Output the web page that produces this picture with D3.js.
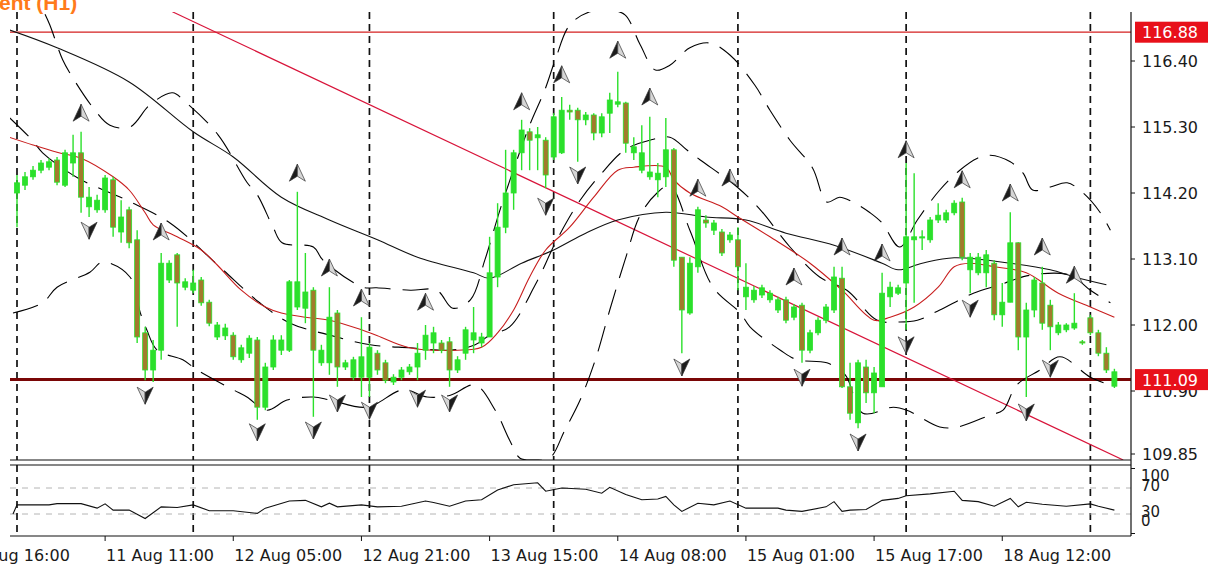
<!DOCTYPE html>
<html lang="en">
<head>
<meta charset="UTF-8">
<title>USDJPY H1</title>
<script src="https://d3js.org/d3.v7.min.js"></script>
<style>
  body { margin: 0; background: #fff; }
  svg { display: block; font-family: "DejaVu Sans", sans-serif; }
</style>
</head>
<body>
<div id="chart"></div>
<script>
// H1 bars, [open, high, low, close]
const ohlc = [
  [114.20,114.50,113.63,114.37],[114.33,114.55,114.25,114.47],[114.47,114.65,114.42,114.58],[114.58,114.75,114.53,114.70],
  [114.63,114.78,114.58,114.72],[114.75,114.80,114.33,114.38],[114.33,114.92,114.30,114.87],[114.70,115.17,114.47,114.87],
  [114.87,115.22,113.87,114.13],[113.97,114.30,113.80,114.13],[113.92,114.17,113.87,114.08],[113.92,114.50,113.87,114.45],
  [114.42,114.47,113.47,113.63],[113.55,114.08,113.37,113.80],[113.92,113.97,113.28,113.37],[113.42,113.58,111.70,111.80],
  [111.87,111.97,111.08,111.25],[111.25,111.75,111.05,111.58],[111.58,113.20,111.42,113.03],[112.75,113.08,112.70,113.03],
  [113.17,113.20,111.97,112.70],[112.63,112.78,112.58,112.72],[112.58,112.92,112.53,112.70],[112.75,112.80,112.32,112.37],
  [112.38,112.42,111.98,112.03],[111.80,112.05,111.75,112.00],[111.82,112.02,111.75,111.95],[111.83,111.88,111.42,111.47],
  [111.42,111.67,111.37,111.62],[111.53,111.83,111.45,111.78],[111.75,111.80,110.42,110.63],[110.63,111.37,110.58,111.30],
  [111.30,111.83,111.25,111.75],[111.58,111.83,111.50,111.75],[111.58,112.75,111.55,112.72],[112.30,114.22,112.25,112.72],
  [112.28,113.20,112.03,112.55],[112.58,112.63,110.47,111.58],[111.37,111.67,111.32,111.58],[111.37,112.63,111.17,112.13],
  [112.20,112.25,110.97,111.30],[111.30,111.42,111.25,111.37],[111.13,111.47,111.08,111.42],[111.13,112.13,110.80,111.47],
  [111.13,111.70,110.80,111.63],[111.53,111.58,111.17,111.25],[111.37,111.42,111.03,111.08],[111.05,111.18,111.00,111.13],
  [111.13,111.30,111.08,111.25],[111.22,111.35,111.17,111.30],[111.30,111.70,111.08,111.53],[111.58,112.00,111.42,111.83],
  [111.70,111.97,111.53,111.87],[111.70,111.75,111.53,111.58],[111.72,111.80,110.97,111.25],[111.25,111.48,111.20,111.42],
  [111.53,111.97,111.42,111.92],[111.75,112.30,111.53,111.87],[111.70,111.87,111.63,111.80],[111.80,113.47,111.80,112.87],
  [112.80,114.03,112.63,113.63],[113.63,114.92,113.53,114.20],[114.20,114.92,113.92,114.87],[114.87,115.42,114.58,115.25],
  [115.22,115.28,114.58,115.08],[115.12,115.30,114.58,115.17],[115.08,115.13,114.28,114.50],[114.80,115.53,114.75,115.47],
  [114.87,115.80,114.85,115.58],[115.58,115.67,115.42,115.55],[115.58,115.62,114.72,115.42],[115.42,115.55,115.33,115.50],
  [115.50,115.53,115.08,115.20],[115.20,115.53,115.13,115.47],[115.53,115.87,115.20,115.75],[115.68,116.22,115.63,115.72],
  [115.70,115.72,114.87,115.03],[114.87,115.13,114.75,114.97],[114.58,115.33,114.53,114.87],[114.47,115.47,114.42,114.55],
  [114.42,114.70,114.13,114.53],[114.47,115.45,114.30,114.92],[114.92,114.95,112.97,113.08],[113.13,113.13,111.53,112.25],
  [112.20,113.13,112.17,113.03],[112.97,113.97,112.87,113.92],[113.75,113.83,113.62,113.70],[113.58,113.75,113.50,113.70],
  [113.55,113.60,113.15,113.20],[113.42,113.55,113.37,113.50],[113.42,113.63,112.58,112.97],[112.47,113.03,112.25,112.63],
  [112.42,112.65,112.37,112.58],[112.50,112.67,112.45,112.62],[112.42,112.58,112.37,112.53],[112.25,112.47,112.20,112.42],
  [112.42,112.47,112.03,112.08],[112.13,112.35,112.08,112.30],[112.33,112.37,111.37,111.58],[111.58,111.92,111.53,111.87],
  [111.87,112.13,111.83,112.08],[112.08,112.35,112.03,112.30],[112.25,112.97,112.20,112.80],[112.78,112.97,110.95,110.97],
  [110.97,111.37,110.42,110.53],[110.37,111.42,110.28,111.37],[111.30,111.42,110.70,110.87],[110.87,111.30,110.53,111.20],
  [110.97,112.87,110.97,112.53],[112.47,112.72,112.30,112.63],[112.53,112.67,112.50,112.62],[112.70,114.70,111.92,113.47],
  [113.42,114.53,112.37,113.47],[113.45,113.58,113.25,113.47],[113.42,113.80,113.37,113.75],[113.75,114.03,113.70,113.83],
  [113.75,113.92,113.70,113.87],[113.87,114.08,113.83,114.03],[114.05,114.12,113.08,113.13],[112.92,113.20,112.53,113.13],
  [112.87,113.20,112.83,113.13],[112.87,113.25,112.63,113.17],[113.03,113.08,112.08,112.17],[112.17,112.70,111.97,112.38],
  [112.38,113.88,112.38,113.37],[113.37,113.38,111.58,111.80],[111.80,112.37,110.80,112.25],[112.25,112.80,112.13,112.75],
  [112.70,112.97,111.92,112.03],[112.33,112.42,111.58,111.97],[111.87,112.05,111.83,112.00],[111.92,112.03,111.88,112.00],
  [111.95,112.53,111.92,112.03],[111.72,111.75,111.67,111.70],[112.12,112.17,111.83,111.87],[111.87,111.92,111.48,111.53],
  [111.53,111.63,111.20,111.25],[110.98,111.27,110.95,111.22]
];

// indicator lines: [bar index, price]
const redMA = [[-1,115.13],[2,115.00],[5,114.88],[8,114.78],[12,114.47],[14,114.25],[16,113.87],[17,113.67],[20,113.47],
  [23,113.25],[25,113.00],[28,112.58],[31,112.30],[33,112.20],[36,112.13],[39,112.08],[43,111.92],[45,111.82],[49,111.62],
  [55,111.58],[58,111.63],[60,111.87],[62,112.25],[64,112.80],[66,113.25],[69,113.63],[72,114.13],[75,114.58],[77,114.63],
  [81,114.63],[82,114.42],[84,114.20],[88,113.97],[90,113.80],[94,113.47],[99,113.03],[103,112.58],[107,112.08],[109,112.13],
  [112,112.30],[115,112.63],[117,112.97],[119,113.03],[122,112.97],[126,112.87],[130,112.53],[134,112.30],[137,112.13]];
const blackMA = [[-1,116.92],[5,116.62],[14,116.05],[22,115.22],[27,114.80],[33,114.13],[39,113.75],[45,113.42],[50,113.13],
  [57,112.87],[59,112.78],[63,113.03],[67,113.25],[71,113.53],[75,113.75],[81,113.88],[86,113.80],[91,113.75],[96,113.53],
  [102,113.33],[108,113.03],[110,112.92],[113,113.03],[117,113.12],[124,113.03],[129,112.92],[132,112.80],[136,112.67]];
const bandUpper = [[3.5,117.18],[4.1,117.00],[5.7,116.42],[6.6,116.20],[9.5,115.62],[11.6,115.33],[14.1,115.30],[16.6,115.67],
  [19.4,115.87],[21,115.72],[25.1,115.17],[28.7,114.38],[30,114.17],[32,113.62],[33.1,113.37],[37,113.30],[38.2,113.08],
  [43.2,112.63],[44.9,112.62],[49.1,112.58],[52.4,112.58],[54.4,112.28],[56.6,112.42],[58.4,113.08],[60.3,113.92],
  [62.2,114.67],[64,115.33],[65.9,115.92],[67.2,116.42],[69,117.00],[71.5,117.22],[74,117.25],[75.9,117.17],[77.8,116.67],
  [79.7,116.25],[81.5,116.33],[84,116.62],[86.5,116.70],[89,116.50],[92.1,116.00],[94,115.58],[96.5,115.08],[99.3,114.62],
  [101.1,114.05],[102.7,114.13],[104.6,114.03],[106.5,113.87],[108,113.70],[110.2,113.30],[112.4,113.75],[115.2,114.25],
  [117.7,114.58],[119.9,114.78],[121.5,114.83],[124,114.72],[125.6,114.53],[126.8,114.25],[129,114.30],[131.1,114.37],
  [133.1,114.20],[135.2,113.88],[136.5,113.58]];
const bandMiddle = [[-0.9,115.45],[1.9,115.08],[3.2,114.87],[7.6,114.45],[13.7,114.08],[19.1,113.70],[25.3,112.97],[30.3,112.37],
  [34.1,112.03],[39.1,111.83],[44.1,111.67],[49.1,111.62],[54.1,111.58],[57.2,111.67],[59,111.83],[61.5,111.97],[64.7,112.67],
  [67.4,113.42],[70.3,114.08],[72.8,114.50],[75.9,114.92],[79,115.08],[81.5,115.13],[83.6,114.92],[85.3,114.75],[89.9,114.30],
  [92.8,113.92],[96.5,113.30],[100.2,112.80],[103.6,112.58],[107.4,112.08],[110.2,112.05],[112.4,112.08],[115.2,112.25],
  [119.4,112.53],[122.7,112.67],[126.5,112.83],[131.5,112.83],[134,112.58],[136.5,112.37]];
const bandLower = [[-0.5,112.20],[3.2,112.37],[5,112.63],[9.1,112.88],[10.7,113.05],[14.1,112.80],[15.4,112.20],[16.2,111.92],
  [17.5,111.58],[20.7,111.42],[22.5,111.25],[27,110.92],[28.7,110.80],[31.2,110.58],[33.7,110.75],[37,110.80],[39.1,110.75],
  [43.7,110.63],[48.2,110.92],[51.2,110.80],[54.1,110.83],[57.2,111.00],[59.7,110.58],[61.5,110.08],[62.8,109.78],
  [64.7,109.75],[66.5,109.78],[68.4,110.25],[70.3,110.75],[72.2,111.42],[74,112.25],[75.9,113.08],[77.8,113.83],
  [79.9,114.20],[81.5,114.33],[84,113.58],[86.9,112.63],[90.3,112.20],[91.5,111.97],[95.3,111.58],[97.4,111.42],
  [101.1,111.37],[103.4,111.17],[105.6,110.53],[109.4,110.63],[111.1,110.58],[115.2,110.30],[117.4,110.30],[121.5,110.50],
  [123.1,110.58],[124.8,111.00],[127.7,111.25],[130.2,111.47],[134,111.13],[136.5,111.00]];

const fractalsUp = [[8,115.53],[18,113.55],[35,114.53],[39,112.95],[43,112.45],[51,112.38],[63,115.72],[68,116.17],[75,116.58],
  [79,115.80],[85,114.28],[89,114.45],[97,112.80],[103,113.30],[108,113.20],[111,114.92],[118,114.42],[124,114.20],[128,113.30],[132,112.83]];
const fractalsDown = [[9,113.58],[16,110.83],[30,110.22],[37,110.25],[40,110.70],[44,110.58],[50,110.78],[54,110.70],[66,113.98],
  [70,114.50],[83,111.30],[98,111.13],[105,110.05],[111,111.67],[119,112.28],[126,110.55],[129,111.28]];

const trendIdx = [19.4, 138.1];
const trendPrice = [117.22, 109.75];
const levelTop = 116.88;
const levelBottom = 111.09;

const rsi = [[-0.5,30],[0,44],[4,44],[5,46],[8,46],[10,39],[11,45.6],[12,36],[14,36],[16,23],[18,41],[20,40],[22,44],[24,35],
  [27,35],[30,31],[31,39],[34,50],[36,51],[38,41],[39,46.6],[40,41],[43,44],[45,41],[48,42],[51,50],[52,47.7],[54,42],[56,50],
  [58,52],[60,67],[62,75],[65,78],[66,65],[68,70],[71,68],[73,62],[74,71],[76,60],[78,52],[80,53],[81,57],[82,44],[83,34],
  [85,46.6],[87,44],[89,50],[91,39],[95,39],[96,36],[98,34],[101,41],[102,49],[103,34],[104,36],[106,37],[108,51],[110,54],
  [111,58],[114,61],[117,65],[118,51],[120,49],[122,42],[124,54],[125,41],[126,48],[128,45],[131,42],[134,45.6],[135,42],[137,36]];
const rsiLevels = [70, 30];
// label text and its baseline in the original (the labels overlap there too)
const rsiLabels = ["100", "70", "30", "0"];
const rsiLabelBase = [481, 491, 517, 526];

const separators = [0, 22, 44, 67, 90, 111, 134];
const priceTicks = [116.40, 115.30, 114.20, 113.10, 112.00, 110.90, 109.85];
const timeTickIdx = [-7, 11, 27, 43, 59, 75, 91, 107, 123];
const timeTickLabels = ["10 Aug 16:00", "11 Aug 11:00", "12 Aug 05:00", "12 Aug 21:00", "13 Aug 15:00",
  "14 Aug 08:00", "15 Aug 01:00", "15 Aug 17:00", "18 Aug 12:00"];

const width = 1212, height = 568;
const plot = { left: 10, right: 1131, top: 12, bottom: 460 };
const sub = { top: 465, bottom: 536 };
const bull = "#2be02b", bear = "#a27a2c";
const fontSize = 16;

const x = d3.scaleLinear().domain([0, ohlc.length - 1]).range([17, 1114.4]);
const y = d3.scaleLinear().domain([109.75, 117.2167]).range([plot.bottom, plot.top]);
const yr = d3.scaleLinear().domain([0, 100]).range([533.5, 468.5]);

const svg = d3.select("#chart").append("svg").attr("width", width).attr("height", height);

const defs = svg.append("defs");
defs.append("clipPath").attr("id", "clipMain").append("rect")
  .attr("x", plot.left).attr("y", plot.top).attr("width", plot.right - plot.left).attr("height", plot.bottom - plot.top);
defs.append("clipPath").attr("id", "clipSub").append("rect")
  .attr("x", plot.left).attr("y", sub.top).attr("width", plot.right - plot.left).attr("height", sub.bottom - sub.top);

svg.append("text").attr("x", -1).attr("y", 10)
  .attr("font-family", "Liberation Sans, Arial, sans-serif").attr("font-weight", "bold").attr("font-size", 21)
  .attr("fill", "#ff7a1a").text("ent (H1)");

const main = svg.append("g").attr("clip-path", "url(#clipMain)");
const subG = svg.append("g").attr("clip-path", "url(#clipSub)");

// day separators
[[main, plot.top, plot.bottom], [subG, sub.top, sub.bottom]].forEach(([g, y0, y1]) => {
  g.selectAll(null).data(separators).join("line")
    .attr("x1", d => x(d)).attr("x2", d => x(d)).attr("y1", y0).attr("y2", y1)
    .attr("stroke", "#111").attr("stroke-width", 1.7).attr("stroke-dasharray", "7,5");
});

// horizontal levels
main.append("line").attr("x1", plot.left).attr("x2", plot.right)
  .attr("y1", y(levelTop)).attr("y2", y(levelTop)).attr("stroke", "#d42020").attr("stroke-width", 1.2);
main.append("line").attr("x1", plot.left).attr("x2", plot.right)
  .attr("y1", y(levelBottom)).attr("y2", y(levelBottom)).attr("stroke", "#7a0606").attr("stroke-width", 3);

// trend line
main.append("line").attr("x1", x(trendIdx[0])).attr("y1", y(trendPrice[0]))
  .attr("x2", x(trendIdx[1])).attr("y2", y(trendPrice[1]))
  .attr("stroke", "#d8143a").attr("stroke-width", 1.2);

const smooth = d3.line().x(d => x(d[0])).y(d => y(d[1])).curve(d3.curveCatmullRom);

[bandUpper, bandMiddle, bandLower].forEach(b => {
  main.append("path").attr("d", smooth(b)).attr("fill", "none")
    .attr("stroke", "#000").attr("stroke-width", 1.1).attr("stroke-dasharray", "26,12");
});
main.append("path").attr("d", smooth(blackMA)).attr("fill", "none").attr("stroke", "#111").attr("stroke-width", 1.1);
main.append("path").attr("d", smooth(redMA)).attr("fill", "none").attr("stroke", "#c81e1e").attr("stroke-width", 1.1);

// candles
const bw = 5;
const c = main.append("g").selectAll("g").data(ohlc).join("g");
c.append("line")
  .attr("x1", (d, i) => x(i)).attr("x2", (d, i) => x(i))
  .attr("y1", d => y(d[1])).attr("y2", d => y(d[2]))
  .attr("stroke", bull).attr("stroke-width", 1.4);
c.append("rect")
  .attr("x", (d, i) => x(i) - bw / 2).attr("width", bw)
  .attr("y", d => y(Math.max(d[0], d[3])))
  .attr("height", d => Math.max(1, Math.abs(y(d[0]) - y(d[3]))))
  .attr("fill", d => d[3] >= d[0] ? bull : bear)
  .attr("stroke", bull).attr("stroke-width", 0.8);

// fractal arrows
function arrow(g, cx, cy, up) {
  const s = up ? 1 : -1;
  const tip = [cx, cy - 9 * s], notch = [cx, cy + 3 * s];
  const lft = [cx - 8, cy + 8 * s], rgt = [cx + 8, cy + 8 * s];
  const p = pts => "M" + pts.map(q => q.join(",")).join("L") + "Z";
  g.append("path").attr("d", p([tip, lft, notch])).attr("fill", up ? "#1c1c1c" : "#d6d6d6").attr("stroke", "#333").attr("stroke-width", 0.7);
  g.append("path").attr("d", p([tip, rgt, notch])).attr("fill", up ? "#d6d6d6" : "#1c1c1c").attr("stroke", "#333").attr("stroke-width", 0.7);
}
const fr = main.append("g");
fractalsUp.forEach(d => arrow(fr, x(d[0]), y(d[1]), true));
fractalsDown.forEach(d => arrow(fr, x(d[0]), y(d[1]), false));

// RSI window
subG.selectAll(null).data(rsiLevels).join("line")
  .attr("x1", plot.left).attr("x2", plot.right).attr("y1", d => yr(d)).attr("y2", d => yr(d))
  .attr("stroke", "#b4b4b4").attr("stroke-dasharray", "6,6");
subG.append("path").attr("fill", "none").attr("stroke", "#111").attr("stroke-width", 1.1)
  .attr("d", d3.line().x(d => x(d[0])).y(d => yr(d[1]))(rsi));

// frames
const frame = svg.append("g").attr("stroke", "#111").attr("stroke-width", 1.2);
frame.append("line").attr("x1", plot.left).attr("x2", plot.right).attr("y1", plot.bottom).attr("y2", plot.bottom);
frame.append("line").attr("x1", plot.left).attr("x2", plot.right).attr("y1", sub.top).attr("y2", sub.top);
frame.append("line").attr("x1", plot.left).attr("x2", plot.right).attr("y1", sub.bottom).attr("y2", sub.bottom);
frame.append("line").attr("x1", plot.right).attr("x2", plot.right).attr("y1", plot.top).attr("y2", sub.bottom);

// price axis
const pa = svg.append("g").attr("font-size", fontSize).attr("fill", "#1a1a1a");
pa.selectAll("line").data(priceTicks).join("line")
  .attr("x1", plot.right).attr("x2", plot.right + 4).attr("y1", d => y(d)).attr("y2", d => y(d)).attr("stroke", "#111");
pa.selectAll("text").data(priceTicks).join("text")
  .attr("x", 1142).attr("y", d => y(d) + 6).text(d => d.toFixed(2));

[levelTop, levelBottom].forEach(v => {
  svg.append("rect").attr("x", 1135).attr("y", y(v) - 10.5).attr("width", 73).attr("height", 21).attr("fill", "#e8101a");
  svg.append("text").attr("x", 1142).attr("y", y(v) + 6).attr("font-size", fontSize).attr("fill", "#fff").text(v.toFixed(2));
});

// RSI labels
const ra = svg.append("g").attr("font-size", 15).attr("fill", "#1a1a1a");
ra.selectAll("text").data(rsiLabels).join("text")
  .attr("x", 1141).attr("y", (d, i) => rsiLabelBase[i]).text(d => d);
ra.selectAll("line").data([100, 0]).join("line")
  .attr("x1", plot.right).attr("x2", plot.right + 4).attr("y1", d => yr(d)).attr("y2", d => yr(d)).attr("stroke", "#111");

// time axis
const ta = svg.append("g").attr("font-size", fontSize).attr("fill", "#1a1a1a");
ta.selectAll("line").data(timeTickIdx).join("line")
  .attr("x1", d => x(d)).attr("x2", d => x(d)).attr("y1", sub.bottom).attr("y2", sub.bottom + 5).attr("stroke", "#111");
ta.selectAll("text").data(timeTickIdx).join("text")
  .attr("x", d => x(d) + 1).attr("y", 561).text((d, i) => timeTickLabels[i]);
</script>
</body>
</html>
